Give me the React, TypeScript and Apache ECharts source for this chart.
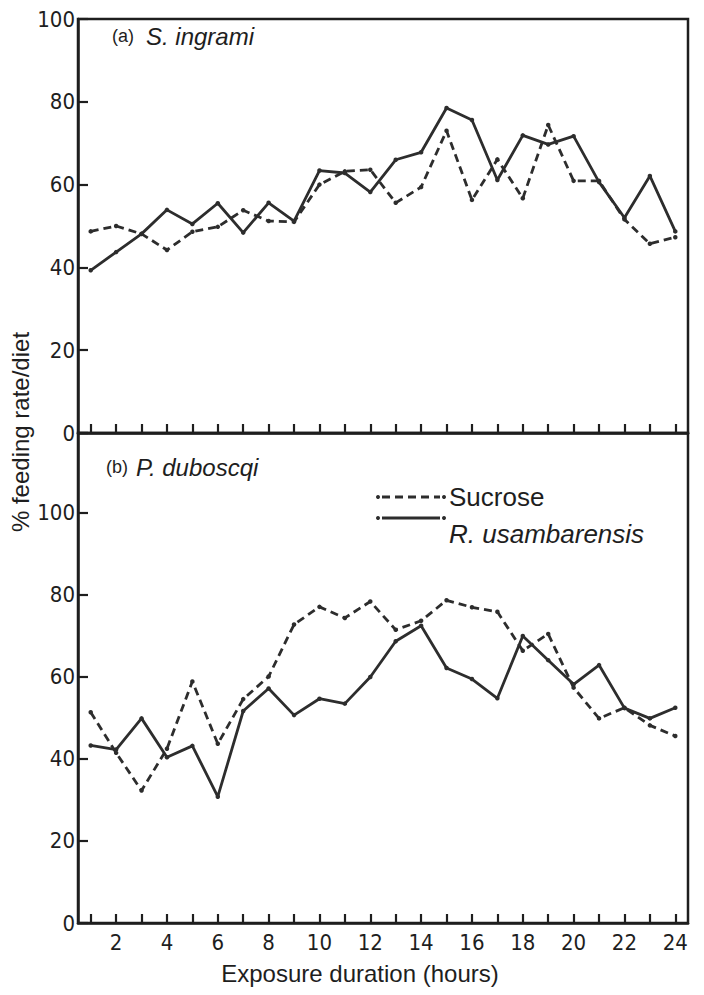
import React, { useEffect, useRef } from "react";
import * as echarts from "echarts";

// ---- data ----
const hours = ["1", "2", "3", "4", "5", "6", "7", "8", "9", "10", "11", "12", "13", "14", "15", "16", "17", "18", "19", "20", "21", "22", "23", "24"];
const seriesNames = ["Sucrose", "R. usambarensis"];

// (a) S. ingrami
const sucroseA = [48.7, 50.0, 48.1, 44.2, 48.6, 49.8, 53.8, 51.2, 51.0, 60.0, 63.2, 63.6, 55.6, 59.4, 73.0, 56.3, 66.1, 56.7, 74.4, 60.9, 60.9, 51.6, 45.7, 47.3];
const usambA = [39.3, 43.7, 48.1, 53.9, 50.5, 55.5, 48.4, 55.6, 51.2, 63.4, 62.8, 58.2, 66.0, 67.8, 78.5, 75.6, 61.1, 71.9, 69.7, 71.7, 60.6, 52.0, 62.1, 48.7];

// (b) P. duboscqi
const sucroseB = [51.4, 41.5, 32.3, 42.5, 58.9, 43.7, 54.6, 60.1, 72.8, 77.1, 74.4, 78.4, 71.5, 73.7, 78.7, 77.0, 75.9, 66.4, 70.5, 57.4, 49.9, 52.5, 48.2, 45.6];
const usambB = [43.3, 42.3, 49.9, 40.4, 43.2, 30.8, 51.7, 57.2, 50.7, 54.7, 53.5, 60.0, 68.7, 72.5, 62.2, 59.5, 54.8, 70.0, 64.1, 58.2, 62.9, 52.4, 49.9, 52.5];

const panelLetters = ["(a)", "(b)"];
const panelSpecies = ["S. ingrami", "P. duboscqi"];
const yAxisTitle = "% feeding rate/diet";
const xAxisTitle = "Exposure duration (hours)";

// ---- styles ----
const INK = "#1e1e1e";
const LINE = "#2d2d2d";
const NARROW = '"Liberation Sans Narrow", "DejaVu Sans Condensed", "Arial Narrow", sans-serif';
const SANS = '"Liberation Sans", Arial, Helvetica, sans-serif';

const GRID_LEFT = 78;
const GRID_W = 610;

function lineSeries(name: string, data: number[], idx: number, dashed: boolean) {
  return {
    type: "line",
    name,
    xAxisIndex: idx,
    yAxisIndex: idx,
    data,
    symbol: "circle",
    symbolSize: 4.5,
    showSymbol: true,
    showAllSymbol: true,
    itemStyle: { color: LINE },
    lineStyle: { color: LINE, width: 2.8, type: dashed ? [8, 5] : "solid" },
    silent: true,
    z: 3,
  };
}

function xAxis(idx: number, showLabels: boolean) {
  return {
    type: "category",
    gridIndex: idx,
    data: hours,
    boundaryGap: true,
    axisLine: { show: true, lineStyle: { color: INK, width: 2.5 } },
    axisTick: { show: true, inside: true, length: 9, alignWithLabel: true, interval: 0, lineStyle: { color: INK, width: 2.2 } },
    axisLabel: {
      show: showLabels,
      interval: (index: number) => index % 2 === 1,
      margin: 8,
      fontFamily: NARROW,
      fontSize: 22,
      color: INK,
    },
    splitLine: { show: false },
  };
}

function yAxis(idx: number, max: number) {
  return {
    type: "value",
    gridIndex: idx,
    min: 0,
    max,
    interval: 20,
    axisLine: { show: true, lineStyle: { color: INK, width: 2.5 } },
    axisTick: { show: true, inside: true, length: 10, lineStyle: { color: INK, width: 2.2 } },
    axisLabel: {
      margin: 3,
      fontFamily: NARROW,
      fontSize: 22,
      color: INK,
      formatter: (v: number) => (v > 100 ? "" : String(v)),
    },
    splitLine: { show: false },
  };
}

export default function App() {
  const ref = useRef<HTMLDivElement>(null);

  useEffect(() => {
    if (!ref.current) return;
    const chart = echarts.init(ref.current, null, { renderer: "svg" });

    const legendX0 = 378;
    const legendX1 = 444;
    const legY1 = 497;
    const legY2 = 518;

    const option: any = {
      animation: false,
      backgroundColor: "#ffffff",
      grid: [
        { left: GRID_LEFT, width: GRID_W, top: 19, height: 414, show: true, borderColor: INK, borderWidth: 2.5, backgroundColor: "transparent" },
        { left: GRID_LEFT, width: GRID_W, top: 433, height: 490, show: true, borderColor: INK, borderWidth: 2.5, backgroundColor: "transparent" },
      ],
      xAxis: [xAxis(0, false), xAxis(1, true)],
      yAxis: [yAxis(0, 100), yAxis(1, 119.5)],
      series: [
        lineSeries(seriesNames[0], sucroseA, 0, true),
        lineSeries(seriesNames[1], usambA, 0, false),
        lineSeries(seriesNames[0], sucroseB, 1, true),
        lineSeries(seriesNames[1], usambB, 1, false),
      ],
      graphic: [
        // panel titles
        { type: "text", x: 112, y: 36, style: { text: panelLetters[0], font: `18px ${SANS}`, fill: INK, textAlign: "left", textVerticalAlign: "middle" } },
        { type: "text", x: 146, y: 36, style: { text: panelSpecies[0], font: `italic 24px ${SANS}`, fill: INK, textAlign: "left", textVerticalAlign: "middle" } },
        { type: "text", x: 106, y: 467, style: { text: panelLetters[1], font: `18px ${SANS}`, fill: INK, textAlign: "left", textVerticalAlign: "middle" } },
        { type: "text", x: 136, y: 467, style: { text: panelSpecies[1], font: `italic 24px ${SANS}`, fill: INK, textAlign: "left", textVerticalAlign: "middle" } },
        // legend
        { type: "line", shape: { x1: legendX0 + 4, y1: legY1, x2: legendX1 - 4, y2: legY1 }, style: { stroke: LINE, lineWidth: 2.8, lineDash: [8, 5] } },
        { type: "circle", shape: { cx: legendX0, cy: legY1, r: 2 }, style: { fill: LINE } },
        { type: "circle", shape: { cx: legendX1, cy: legY1, r: 2 }, style: { fill: LINE } },
        { type: "line", shape: { x1: legendX0 + 4, y1: legY2, x2: legendX1 - 4, y2: legY2 }, style: { stroke: LINE, lineWidth: 2.8 } },
        { type: "circle", shape: { cx: legendX0, cy: legY2, r: 2 }, style: { fill: LINE } },
        { type: "circle", shape: { cx: legendX1, cy: legY2, r: 2 }, style: { fill: LINE } },
        { type: "text", x: 449, y: 497, style: { text: seriesNames[0], font: `26px ${SANS}`, fill: INK, textAlign: "left", textVerticalAlign: "middle" } },
        { type: "text", x: 449, y: 534, style: { text: seriesNames[1], font: `italic 26px ${SANS}`, fill: INK, textAlign: "left", textVerticalAlign: "middle" } },
        // axis titles
        { type: "text", x: 20, y: 432, rotation: Math.PI / 2, style: { text: yAxisTitle, font: `24px ${SANS}`, fill: INK, textAlign: "center", textVerticalAlign: "middle" } },
        { type: "text", x: 360, y: 973, style: { text: xAxisTitle, font: `24px ${SANS}`, fill: INK, textAlign: "center", textVerticalAlign: "middle" } },
      ],
    };

    chart.setOption(option);
    return () => chart.dispose();
  }, []);

  return <div ref={ref} style={{ position: "absolute", left: 0, top: 0, width: 704, height: 995 }} />;
}
